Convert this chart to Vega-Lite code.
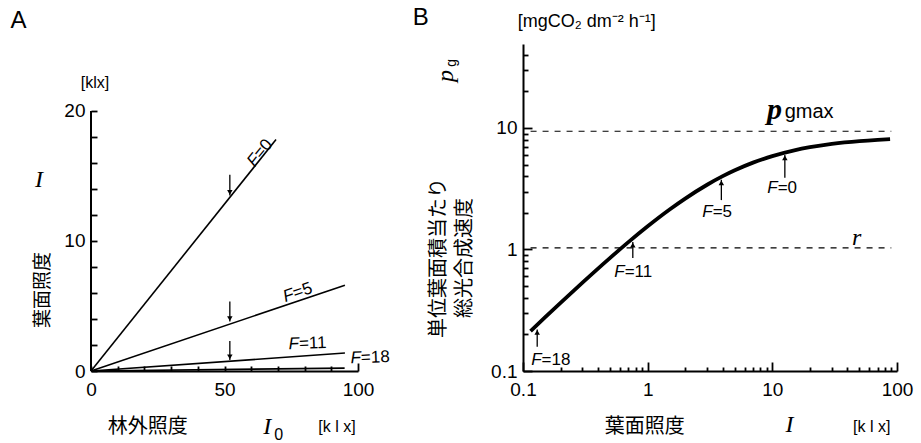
{
  "$schema": "https://vega.github.io/schema/vega-lite/v6.json",
  "autosize": {"type": "none"},
  "padding": {"left": 91, "top": 44, "right": 830, "bottom": 399},
  "background": "white",
  "spacing": 165,
  "bounds": "flush",
  "config": {
    "view": {"stroke": null},
    "font": "Liberation Sans",
    "axis": {
      "grid": false,
      "title": null,
      "domainColor": "black",
      "domainWidth": 2,
      "tickColor": "black",
      "tickWidth": 1.8,
      "labelColor": "black",
      "labelFont": "Liberation Sans",
      "labelFontSize": 19,
      "labelFlush": false,
      "labelOverlap": false
    }
  },
  "datasets": {
    "linesA": [
      {"F": "0", "I0": 0, "I": 0}, {"F": "0", "I0": 69.3, "I": 17.8},
      {"F": "5", "I0": 0, "I": 0}, {"F": "5", "I0": 95.1, "I": 6.6},
      {"F": "11", "I0": 0, "I": 0}, {"F": "11", "I0": 95.1, "I": 1.38},
      {"F": "18", "I0": 0, "I": 0}, {"F": "18", "I0": 95.0, "I": 0.22}
    ],
    "arrowsA": [
      {"F": "0", "I0": 52, "I": 15.1, "tip": 13.5},
      {"F": "5", "I0": 52, "I": 5.35, "tip": 3.8},
      {"F": "11", "I0": 52, "I": 2.3, "tip": 0.85}
    ],
    "curveB": [
      {"I": 0.115, "P": 0.213}, {"I": 0.15, "P": 0.276}, {"I": 0.2, "P": 0.364},
      {"I": 0.3, "P": 0.534}, {"I": 0.5, "P": 0.854}, {"I": 0.7, "P": 1.15},
      {"I": 1, "P": 1.553}, {"I": 1.5, "P": 2.135}, {"I": 2, "P": 2.626},
      {"I": 3, "P": 3.412}, {"I": 4, "P": 4.013}, {"I": 5, "P": 4.486},
      {"I": 7, "P": 5.186}, {"I": 10, "P": 5.873}, {"I": 15, "P": 6.548},
      {"I": 20, "P": 6.947}, {"I": 30, "P": 7.398}, {"I": 50, "P": 7.803},
      {"I": 70, "P": 7.99}, {"I": 88, "P": 8.09}
    ],
    "arrowsB": [
      {"F": "0", "I": 12.6, "P": 3.9, "tip": 6.0},
      {"F": "5", "I": 3.9, "P": 2.55, "tip": 3.75},
      {"F": "11", "I": 0.76, "P": 0.85, "tip": 1.15},
      {"F": "18", "I": 0.13, "P": 0.158, "tip": 0.22}
    ],
    "refB": [
      {"name": "pgmax", "I": 0.115, "I2": 90, "P": 9.4},
      {"name": "r", "I": 0.115, "I2": 90, "P": 1.03}
    ]
  },
  "hconcat": [
    {
      "width": 267,
      "height": 327,
      "encoding": {
        "x": {
          "field": "I0", "type": "quantitative",
          "scale": {"domain": [0, 100], "nice": false, "zero": false},
          "axis": {
            "values": [0, 10, 20, 30, 40, 50, 60, 70, 80, 90, 100],
            "tickSize": {"condition": {"test": "datum.value === 100", "value": -8}, "value": -5},
            "labelPadding": {"condition": {"test": "datum.value === 100", "value": 17}, "value": 14},
            "labelExpr": "datum.value % 50 === 0 ? datum.label : ''"
          }
        },
        "y": {
          "field": "I", "type": "quantitative",
          "scale": {"domain": [0, 25.15], "nice": false, "zero": false},
          "axis": {
            "domain": false,
            "values": [0, 2, 4, 6, 8, 10, 12, 14, 16, 18, 20],
            "tickSize": -6,
            "labelPadding": 12,
            "labelExpr": "datum.value % 10 === 0 ? datum.label : ''"
          }
        }
      },
      "layer": [
        {
          "data": {"values": [{"I0": 0, "I": 0, "top": 20}]},
          "mark": {"type": "rule", "color": "black", "strokeWidth": 2},
          "encoding": {"y2": {"field": "top"}}
        },
        {
          "data": {"name": "linesA"},
          "mark": {"type": "line", "color": "black", "strokeWidth": 1.6},
          "encoding": {"detail": {"field": "F"}}
        },
        {
          "data": {"name": "arrowsA"},
          "mark": {"type": "rule", "color": "black", "strokeWidth": 1.3},
          "encoding": {"y2": {"field": "tip"}}
        },
        {
          "data": {"name": "arrowsA"},
          "mark": {"type": "point", "shape": "triangle-down", "filled": true, "color": "black", "size": 30, "opacity": 1, "yOffset": -3},
          "encoding": {"y": {"field": "tip", "type": "quantitative"}}
        },
        {
          "data": {"values": [{"I0": 62.2, "I": 16.5, "rest": "=0"}]},
          "layer": [
            {"mark": {"type": "text", "text": "F", "align": "right", "baseline": "middle", "angle": -51, "fontSize": 17, "fontStyle": "italic"}},
            {"mark": {"type": "text", "align": "left", "baseline": "middle", "angle": -51, "fontSize": 17}, "encoding": {"text": {"field": "rest"}}}
          ]
        },
        {
          "data": {"values": [{"I0": 75.8, "I": 5.92, "rest": "=5"}]},
          "layer": [
            {"mark": {"type": "text", "text": "F", "align": "right", "baseline": "middle", "angle": -19, "fontSize": 17, "fontStyle": "italic"}},
            {"mark": {"type": "text", "align": "left", "baseline": "middle", "angle": -19, "fontSize": 17}, "encoding": {"text": {"field": "rest"}}}
          ]
        },
        {
          "data": {"values": [{"I0": 77.9, "I": 2.08, "rest": "=11"}, {"I0": 101.1, "I": 1.0, "rest": "=18"}]},
          "layer": [
            {"mark": {"type": "text", "text": "F", "align": "right", "baseline": "middle", "angle": -2, "fontSize": 17, "fontStyle": "italic"}},
            {"mark": {"type": "text", "align": "left", "baseline": "middle", "angle": -2, "fontSize": 17}, "encoding": {"text": {"field": "rest"}}}
          ]
        },
        {
          "data": {"values": [{"I0": -27.2, "I": 26.9, "t": "A"}]},
          "mark": {"type": "text", "fontSize": 24, "baseline": "middle"},
          "encoding": {"text": {"field": "t"}}
        },
        {
          "data": {"values": [{"I0": 1.5, "I": 22.15, "t": "[klx]"}, {"I0": 92.1, "I": -4.3, "t": "[k l x]"}]},
          "mark": {"type": "text", "fontSize": 16, "baseline": "middle"},
          "encoding": {"text": {"field": "t"}}
        },
        {
          "data": {"values": [{"I0": -19.5, "I": 14.7, "t": "I"}, {"I0": 66.0, "I": -4.3, "t": "I"}]},
          "mark": {"type": "text", "font": "Liberation Serif", "fontStyle": "italic", "fontSize": 24, "baseline": "middle"},
          "encoding": {"text": {"field": "t"}}
        },
        {
          "data": {"values": [{"I0": 70.3, "I": -4.9, "t": "0"}]},
          "mark": {"type": "text", "fontSize": 16, "baseline": "middle"},
          "encoding": {"text": {"field": "t"}}
        },
        {
          "data": {"values": [{"I0": -18, "I": 6.23, "t": "葉面照度"}]},
          "mark": {"type": "text", "font": "Noto Sans CJK JP", "fontSize": 19, "angle": 270, "baseline": "middle"},
          "encoding": {"text": {"field": "t"}}
        },
        {
          "data": {"values": [{"I0": 21.3, "I": -4.3, "t": "林外照度"}]},
          "mark": {"type": "text", "font": "Noto Sans CJK JP", "fontSize": 20, "baseline": "middle"},
          "encoding": {"text": {"field": "t"}}
        }
      ]
    },
    {
      "width": 374,
      "height": 327,
      "encoding": {
        "x": {
          "field": "I", "type": "quantitative",
          "scale": {"type": "log", "domain": [0.1, 100], "nice": false},
          "axis": {
            "values": [0.1, 0.2, 0.3, 0.4, 0.5, 0.6, 0.7, 0.8, 0.9, 1, 2, 3, 4, 5, 6, 7, 8, 9, 10, 20, 30, 40, 50, 60, 70, 80, 90, 100],
            "tickSize": {"condition": {"test": "indexof([0.1, 1, 10, 100], datum.value) >= 0", "value": -9}, "value": -4},
            "labelPadding": 18,
            "labelExpr": "indexof([0.1, 1, 10, 100], datum.value) >= 0 ? '' + datum.value : ''"
          }
        },
        "y": {
          "field": "P", "type": "quantitative",
          "scale": {"type": "log", "domain": [0.1, 49.13], "nice": false},
          "axis": {
            "values": [0.1, 0.2, 0.3, 0.4, 0.5, 0.6, 0.7, 0.8, 0.9, 1, 2, 3, 4, 5, 6, 7, 8, 9, 10, 20, 30, 40],
            "tickSize": {"condition": {"test": "indexof([0.1, 1, 10], datum.value) >= 0", "value": -9}, "value": -5},
            "labelPadding": 15,
            "labelExpr": "indexof([0.1, 1, 10], datum.value) >= 0 ? '' + datum.value : ''"
          }
        }
      },
      "layer": [
        {
          "data": {"name": "refB"},
          "mark": {"type": "rule", "color": "black", "strokeWidth": 1.2, "strokeDash": [6, 6]},
          "encoding": {"x2": {"field": "I2"}}
        },
        {
          "data": {"name": "curveB"},
          "mark": {"type": "line", "color": "black", "strokeWidth": 3.8, "interpolate": "monotone"}
        },
        {
          "data": {"name": "arrowsB"},
          "mark": {"type": "rule", "color": "black", "strokeWidth": 1.3},
          "encoding": {"y2": {"field": "tip"}}
        },
        {
          "data": {"name": "arrowsB"},
          "mark": {"type": "point", "shape": "triangle-up", "filled": true, "color": "black", "size": 30, "opacity": 1, "yOffset": 3},
          "encoding": {"y": {"field": "tip", "type": "quantitative"}}
        },
        {
          "data": {"values": [
            {"I": 11.03, "P": 3.21, "rest": "=0"},
            {"I": 3.32, "P": 2.02, "rest": "=5"},
            {"I": 0.654, "P": 0.653, "rest": "=11"},
            {"I": 0.141, "P": 0.123, "rest": "=18"}
          ]},
          "layer": [
            {"mark": {"type": "text", "text": "F", "align": "right", "baseline": "middle", "fontSize": 17, "fontStyle": "italic"}},
            {"mark": {"type": "text", "align": "left", "baseline": "middle", "fontSize": 17}, "encoding": {"text": {"field": "rest"}}}
          ]
        },
        {
          "data": {"values": [{"I": 0.0151, "P": 80.4, "t": "B"}]},
          "mark": {"type": "text", "fontSize": 24, "baseline": "middle"},
          "encoding": {"text": {"field": "t"}}
        },
        {
          "data": {"values": [{"I": 0.324, "P": 74.5, "t": "[mgCO₂ dm⁻² h⁻¹]"}]},
          "mark": {"type": "text", "fontSize": 18, "baseline": "middle"},
          "encoding": {"text": {"field": "t"}}
        },
        {
          "data": {"values": [{"I": 0.024, "P": 26.8, "t": "p"}]},
          "mark": {"type": "text", "font": "Liberation Serif", "fontStyle": "italic", "fontSize": 24, "angle": 270, "baseline": "middle"},
          "encoding": {"text": {"field": "t"}}
        },
        {
          "data": {"values": [{"I": 0.0268, "P": 34.3, "t": "g"}]},
          "mark": {"type": "text", "fontSize": 14, "angle": 270, "baseline": "middle"},
          "encoding": {"text": {"field": "t"}}
        },
        {
          "data": {"values": [
            {"I": 0.0211, "P": 0.851, "t": "単位葉面積当たり"},
            {"I": 0.034, "P": 0.851, "t": "総光合成速度"}
          ]},
          "mark": {"type": "text", "font": "Noto Sans CJK JP", "fontSize": 20, "angle": 270, "baseline": "middle"},
          "encoding": {"text": {"field": "t"}}
        },
        {
          "data": {"values": [{"I": 0.946, "P": 0.0346, "t": "葉面照度"}]},
          "mark": {"type": "text", "font": "Noto Sans CJK JP", "fontSize": 20, "baseline": "middle"},
          "encoding": {"text": {"field": "t"}}
        },
        {
          "data": {"values": [{"I": 13.7, "P": 0.036, "t": "I"}, {"I": 47.4, "P": 1.24, "t": "r"}]},
          "mark": {"type": "text", "font": "Liberation Serif", "fontStyle": "italic", "fontSize": 24, "baseline": "middle"},
          "encoding": {"text": {"field": "t"}}
        },
        {
          "data": {"values": [{"I": 62.7, "P": 0.0346, "t": "[k l x]"}]},
          "mark": {"type": "text", "fontSize": 16, "baseline": "middle"},
          "encoding": {"text": {"field": "t"}}
        },
        {
          "data": {"values": [{"I": 10.4, "P": 14.1, "t": "p"}]},
          "mark": {"type": "text", "font": "Liberation Serif", "fontStyle": "italic", "fontWeight": "bold", "fontSize": 30, "baseline": "middle"},
          "encoding": {"text": {"field": "t"}}
        },
        {
          "data": {"values": [{"I": 12.56, "P": 12.08, "t": "gmax"}]},
          "mark": {"type": "text", "fontSize": 20, "align": "left", "baseline": "alphabetic"},
          "encoding": {"text": {"field": "t"}}
        }
      ]
    }
  ]
}
